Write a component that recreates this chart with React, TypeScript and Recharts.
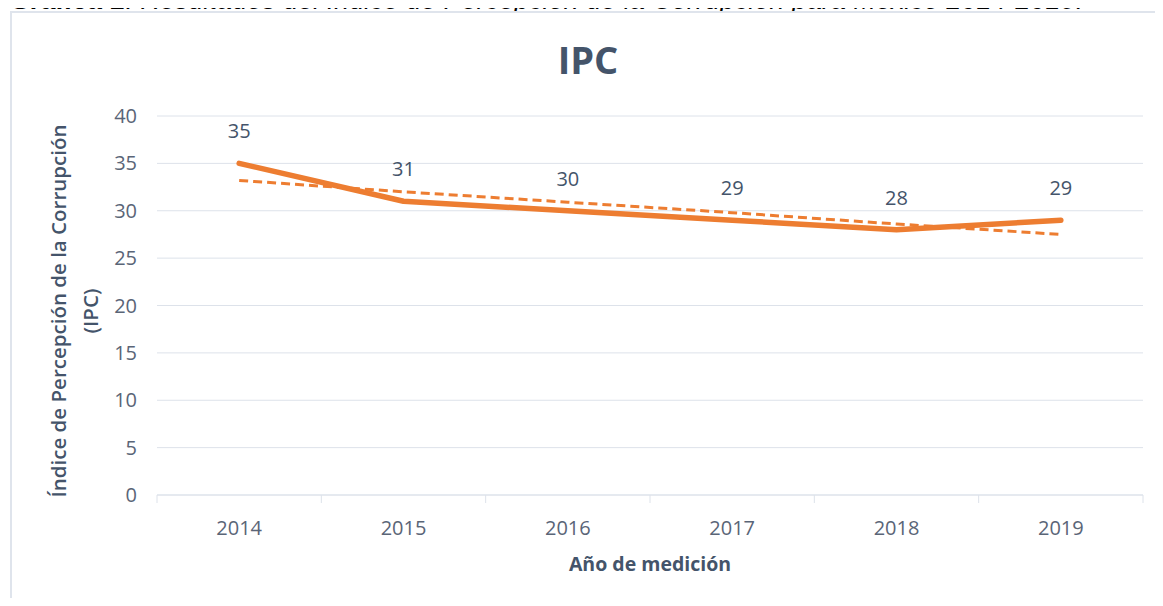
import React from 'react';
import { LineChart, Line, XAxis, YAxis, CartesianGrid, LabelList } from 'recharts';

const years = ['2014', '2015', '2016', '2017', '2018', '2019'];
const ipcValues = [35, 31, 30, 29, 28, 29];
// linear trend
const trendValues = [33.2, 32.0, 30.9, 29.8, 28.6, 27.5];
const yTicks = [0, 5, 10, 15, 20, 25, 30, 35, 40];

const data = years.map((year, i) => ({ year, ipc: ipcValues[i], trend: trendValues[i] }));

const W = 1163;
const H = 606;
const PLOT_LEFT = 157;
const PLOT_RIGHT = 1143;
const band = (PLOT_RIGHT - PLOT_LEFT) / years.length;

const textColor = '#44546a';
const tickColor = '#5a6577';
const gridColor = '#dde2ea';
const orange = '#ed7d31';

const YearTick = (props: any) => {
  const { x, y, payload, index } = props;
  return (
    <g>
      <line x1={x - band / 2} x2={x - band / 2} y1={y} y2={y + 8} stroke={gridColor} />
      {index === years.length - 1 && (
        <line x1={x + band / 2} x2={x + band / 2} y1={y} y2={y + 8} stroke={gridColor} />
      )}
      <text x={x} y={y + 32} textAnchor="middle" dominantBaseline="central" fill={tickColor} fontSize={20}>
        {payload.value}
      </text>
    </g>
  );
};

export default function App() {
  return (
    <div
      style={{
        position: 'relative',
        width: W,
        height: H,
        margin: -8,
        overflow: 'hidden',
        background: '#fff',
        fontFamily: '"Open Sans", sans-serif',
      }}
    >
      <div
        style={{
          position: 'absolute',
          left: 10,
          top: -15,
          lineHeight: '30px',
          whiteSpace: 'nowrap',
          fontFamily: '"Liberation Sans", Arial, sans-serif',
          fontStyle: 'italic',
          fontSize: 27,
          color: '#000',
        }}
      >
        <b>Gráfica 1</b>: Resultados del Índice de Percepción de la Corrupción para México 2014-2019.
      </div>
      <div
        style={{
          position: 'absolute',
          left: 10,
          top: 11,
          width: W,
          height: H,
          border: '2px solid #dfe4ec',
          boxSizing: 'border-box',
          background: '#fff',
        }}
      />
      <div
        style={{
          position: 'absolute',
          left: 0,
          width: 1176,
          top: 33,
          textAlign: 'center',
          fontSize: 38,
          fontWeight: 700,
          color: textColor,
        }}
      >
        IPC
      </div>
      <div
        style={{
          position: 'absolute',
          left: 74 - 220,
          top: 311 - 35,
          width: 440,
          height: 70,
          transform: 'rotate(-90deg)',
          textAlign: 'center',
          fontSize: 20.5,
          fontWeight: 600,
          lineHeight: '32px',
          color: textColor,
          display: 'flex',
          flexDirection: 'column',
          justifyContent: 'center',
        }}
      >
        <div>Índice de Percepción de la Corrupción</div>
        <div>(IPC)</div>
      </div>
      <div
        style={{
          position: 'absolute',
          left: PLOT_LEFT,
          width: PLOT_RIGHT - PLOT_LEFT,
          top: 550,
          textAlign: 'center',
          fontSize: 19.5,
          fontWeight: 700,
          color: textColor,
        }}
      >
        Año de medición
      </div>
      <div style={{ position: 'absolute', left: 0, top: 0 }}>
        <LineChart width={W} height={H} data={data} margin={{ top: 116, right: W - PLOT_RIGHT, bottom: 0, left: 0 }}>
          <CartesianGrid vertical={false} stroke={gridColor} strokeWidth={1} />
          <XAxis
            dataKey="year"
            scale="band"
            height={111}
            interval={0}
            axisLine={{ stroke: gridColor }}
            tickLine={false}
            tickSize={0}
            tickMargin={0}
            tick={<YearTick />}
          />
          <YAxis
            width={PLOT_LEFT}
            domain={[0, 40]}
            ticks={yTicks}
            axisLine={false}
            tickLine={false}
            tickSize={0}
            tickMargin={20}
            tick={{ fill: tickColor, fontSize: 20 }}
          />
          <Line
            dataKey="trend"
            stroke={orange}
            strokeWidth={3}
            strokeDasharray="9 5"
            dot={false}
            activeDot={false}
            isAnimationActive={false}
          />
          <Line
            dataKey="ipc"
            stroke={orange}
            strokeWidth={5.5}
            strokeLinecap="round"
            strokeLinejoin="round"
            dot={false}
            activeDot={false}
            isAnimationActive={false}
          >
            <LabelList dataKey="ipc" position="top" offset={25} fill={textColor} fontSize={20} />
          </Line>
        </LineChart>
      </div>
    </div>
  );
}
